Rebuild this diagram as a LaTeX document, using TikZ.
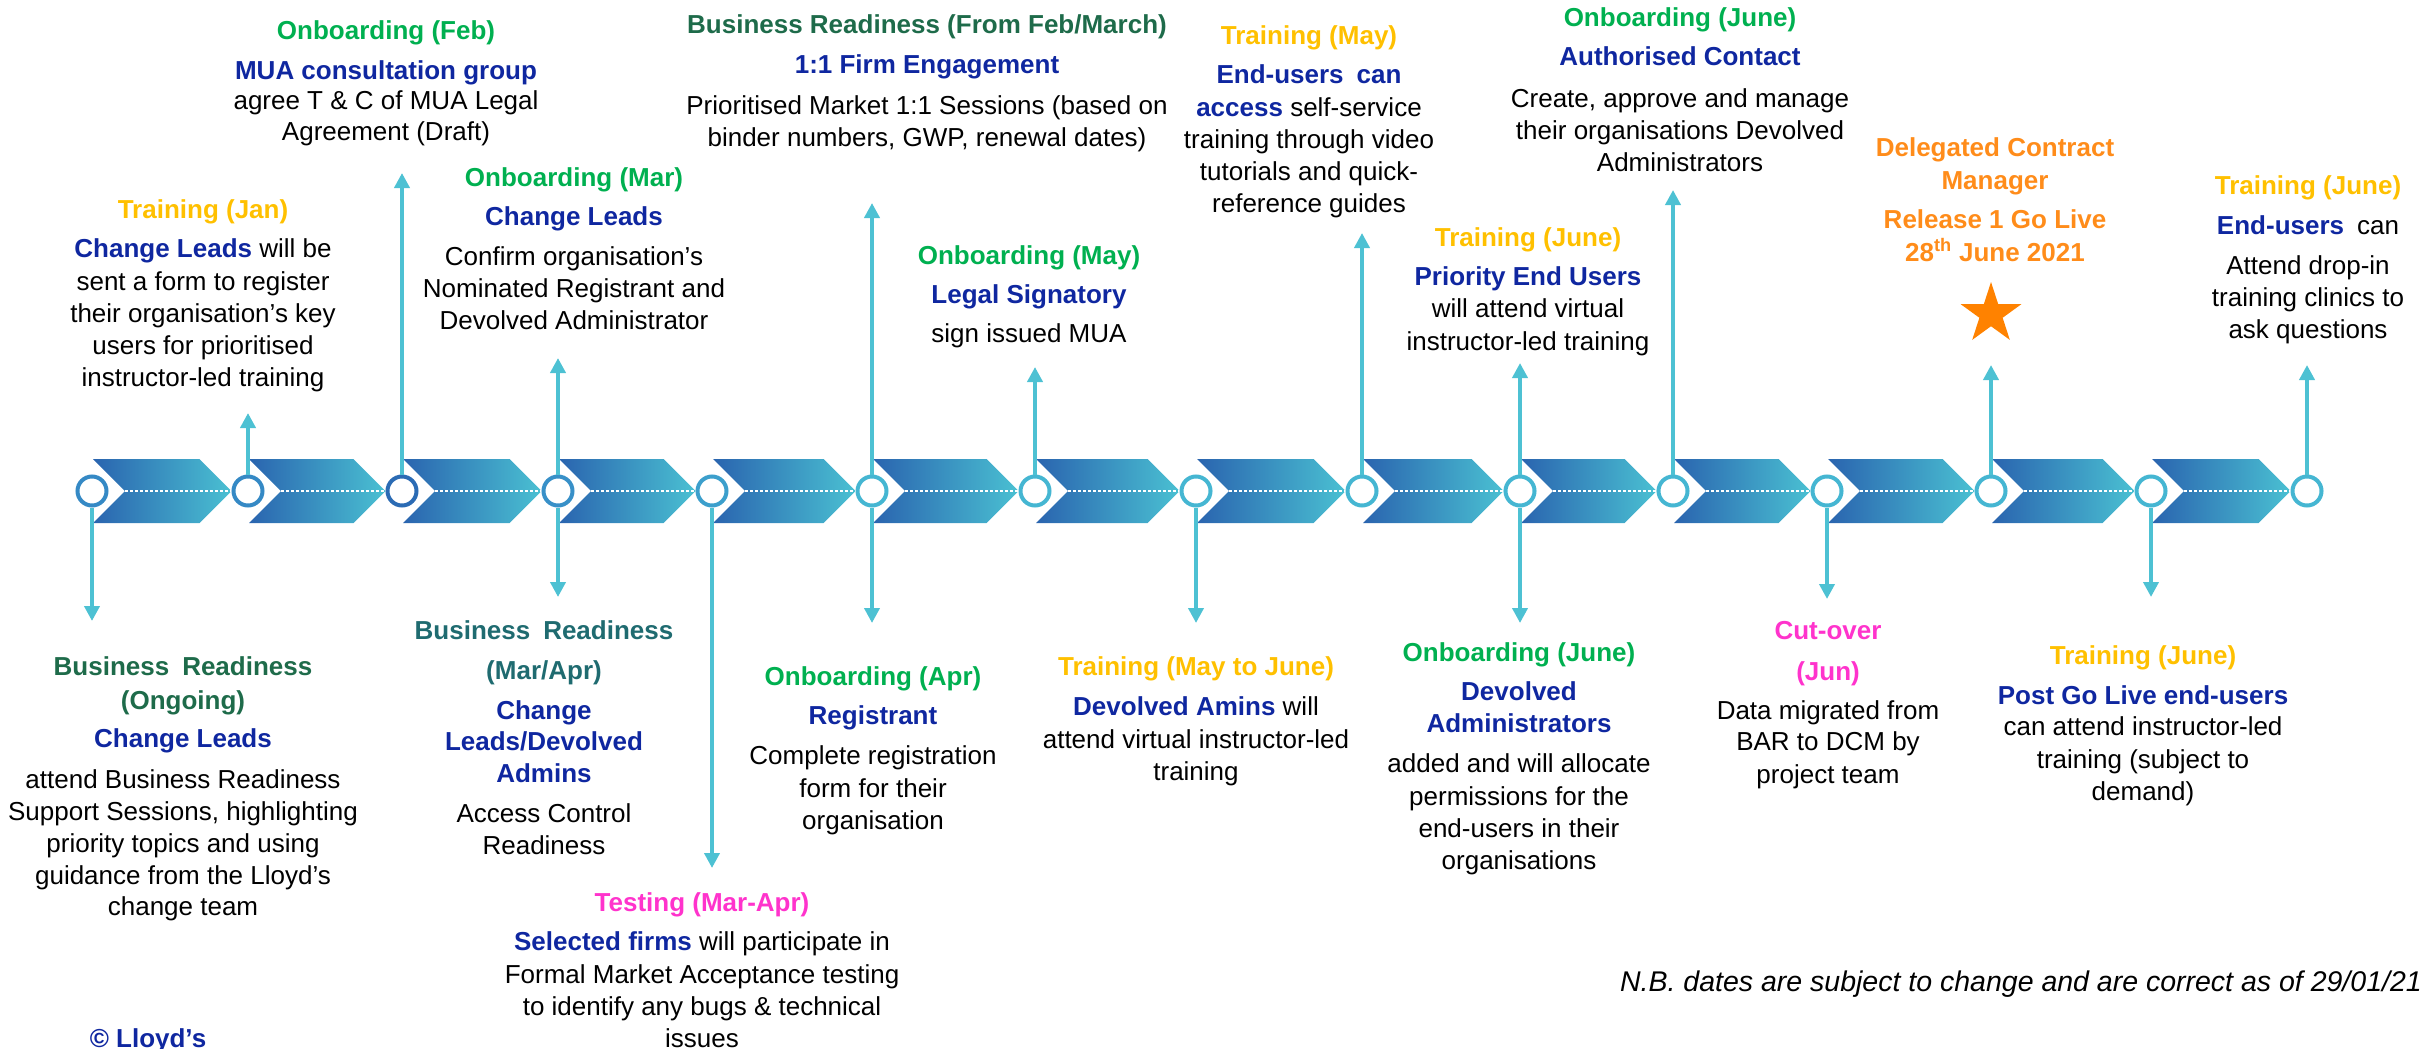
\documentclass[tikz,border=0pt]{standalone}
\usepackage{fontspec}
\setmainfont{Liberation Sans}
\usetikzlibrary{arrows.meta,shapes.geometric}
\definecolor{grn}{HTML}{00B050}
\definecolor{bgrn}{HTML}{1E6B4A}
\definecolor{btea}{HTML}{1F6B70}
\definecolor{amb}{HTML}{FFC000}
\definecolor{blu}{HTML}{0F27A0}
\definecolor{mag}{HTML}{FF33CC}
\definecolor{org}{HTML}{FF8C1A}
\definecolor{starc}{HTML}{FF8200}
\definecolor{conc}{HTML}{4DC1D3}
\definecolor{chL}{HTML}{2A64AF}
\definecolor{chR}{HTML}{4AC0D2}
\definecolor{rA}{HTML}{3589C5}
\definecolor{rB}{HTML}{2B6BB4}
\definecolor{rC}{HTML}{3890C8}
\definecolor{rD}{HTML}{3C9FCC}
\definecolor{rE}{HTML}{45B6D2}
\newcommand\bb[1]{\textbf{\color{blu}#1}}
\begin{document}
\begin{tikzpicture}[x=1pt,y=-1pt,
  ln/.style={anchor=base, inner sep=0pt, font=\fontsize{26}{32}\selectfont},
  hdr/.style={ln, font=\fontsize{26}{32}\selectfont\bfseries},
  onb/.style={hdr, text=grn},
  brg/.style={hdr, text=bgrn},
  brt/.style={hdr, text=btea},
  trn/.style={hdr, text=amb},
  tst/.style={hdr, text=mag},
  dcm/.style={hdr, text=org},
  sub/.style={hdr, text=blu},
  ring/.style={circle, fill=white, line width=4pt, minimum size=29pt, inner sep=0pt},
  conn/.style={draw=conc, line width=4pt, -{Triangle[width=15pt,length=15pt]}}]
\useasboundingbox (0,0) rectangle (2433,1049);
% chevrons
\foreach \a/\b in {92/248,248/402,402/558,558/712,712/872,872/1035,1035/1196,1196/1362,1362/1520,1520/1673,1673/1827,1827/1991,1991/2151,2151/2307}{
  \shade[left color=chL, right color=chR] (\a+1,459) -- (\b-48.5,459) -- (\b-16.5,491) -- (\b-48.5,523) -- (\a+1,523) -- (\a+33,491) -- cycle;
  \draw[white, line width=1.5pt, dash pattern=on 3pt off 2pt] (\a+33,491) -- (\b-16.5,491);
}
% circles
\node[ring, draw=rA] (c1) at (92,491) {};
\node[ring, draw=rA] (c2) at (248,491) {};
\node[ring, draw=rB] (c3) at (402,491) {};
\node[ring, draw=rC] (c4) at (558,491) {};
\node[ring, draw=rD] (c5) at (712,491) {};
\node[ring, draw=rE] (c6) at (872,491) {};
\node[ring, draw=rE] (c7) at (1035,491) {};
\node[ring, draw=rE] (c8) at (1196,491) {};
\node[ring, draw=rE] (c9) at (1362,491) {};
\node[ring, draw=rE] (c10) at (1520,491) {};
\node[ring, draw=rE] (c11) at (1673,491) {};
\node[ring, draw=rE] (c12) at (1827,491) {};
\node[ring, draw=rE] (c13) at (1991,491) {};
\node[ring, draw=rE] (c14) at (2151,491) {};
\node[ring, draw=rE] (c15) at (2307,491) {};
% connector ends
\coordinate (d1) at (92,621);
\coordinate (u2) at (248,413);
\coordinate (u3) at (402,173);
\coordinate (u4) at (558,358);
\coordinate (d4) at (558,597);
\coordinate (d5) at (712,868);
\coordinate (u6) at (872,203);
\coordinate (d6) at (872,623);
\coordinate (u7) at (1035,367);
\coordinate (d8) at (1196,623);
\coordinate (u9) at (1362,233);
\coordinate (u10) at (1520,363);
\coordinate (d10) at (1520,623);
\coordinate (u11) at (1673,190);
\coordinate (d12) at (1827,599);
\coordinate (u13) at (1991,365);
\coordinate (d14) at (2151,597);
\coordinate (u15) at (2307,365);
\draw[conn] (c1.south) -- (d1);
\draw[conn] (c2.north) -- (u2);
\draw[conn] (c3.north) -- (u3);
\draw[conn] (c4.north) -- (u4);
\draw[conn] (c4.south) -- (d4);
\draw[conn] (c5.south) -- (d5);
\draw[conn] (c6.north) -- (u6);
\draw[conn] (c6.south) -- (d6);
\draw[conn] (c7.north) -- (u7);
\draw[conn] (c8.south) -- (d8);
\draw[conn] (c9.north) -- (u9);
\draw[conn] (c10.north) -- (u10);
\draw[conn] (c10.south) -- (d10);
\draw[conn] (c11.north) -- (u11);
\draw[conn] (c12.south) -- (d12);
\draw[conn] (c13.north) -- (u13);
\draw[conn] (c14.south) -- (d14);
\draw[conn] (c15.north) -- (u15);
% Block A
\node[onb] (a1) at (386,40) {Onboarding (Feb)};
\node[sub] (a2) at (386,79) {MUA consultation group};
\node[ln] (a3) at (386,109) {agree T \& C of MUA Legal};
\node[ln] (a4) at (386,140) {Agreement (Draft)};
% Block B
\node[trn] (b1) at (203,218) {Training (Jan)};
\node[ln] (b2) at (203,257) {\bb{Change Leads} will be};
\node[ln] (b3) at (203,290) {sent a form to register};
\node[ln] (b4) at (203,322) {their organisation’s key};
\node[ln] (b5) at (203,354) {users for prioritised};
\node[ln] (b6) at (203,386) {instructor-led training};
% Block C
\node[onb] (cc1) at (574,186) {Onboarding (Mar)};
\node[sub] (cc2) at (574,225) {Change Leads};
\node[ln] (cc3) at (574,265) {Confirm organisation’s};
\node[ln] (cc4) at (574,297) {Nominated Registrant and};
\node[ln] (cc5) at (574,329) {Devolved Administrator};
% Block D
\node[brg] (dd1) at (927,34) {Business Readiness (From Feb/March)};
\node[sub] (dd2) at (927,74) {1:1 Firm Engagement};
\node[ln] (dd3) at (927,114) {Prioritised Market 1:1 Sessions (based on};
\node[ln] (dd4) at (927,146) {binder numbers, GWP, renewal dates)};
% Block E
\node[onb] (e1) at (1029,264) {Onboarding (May)};
\node[sub] (e2) at (1029,303) {Legal Signatory};
\node[ln] (e3) at (1029,342) {sign issued MUA};
% Block F
\node[trn] (f1) at (1309,45) {Training (May)};
\node[sub] (f2) at (1309,84) {End-users\enspace can};
\node[ln] (f3) at (1309,116) {\bb{access} self-service};
\node[ln] (f4) at (1309,148) {training through video};
\node[ln] (f5) at (1309,180) {tutorials and quick-};
\node[ln] (f6) at (1309,212) {reference guides};
% Block G
\node[onb] (g1) at (1680,27) {Onboarding (June)};
\node[sub] (g2) at (1680,66) {Authorised Contact};
\node[ln] (g3) at (1680,107) {Create, approve and manage};
\node[ln] (g4) at (1680,139) {their organisations Devolved};
\node[ln] (g5) at (1680,171) {Administrators};
% Block H
\node[trn] (h1) at (1528,246) {Training (June)};
\node[sub] (h2) at (1528,285) {Priority End Users};
\node[ln] (h3) at (1528,317) {will attend virtual};
\node[ln] (h4) at (1528,350) {instructor-led training};
% Block I
\node[dcm] (i1) at (1995,156) {Delegated Contract};
\node[dcm] (i2) at (1995,189) {Manager};
\node[dcm] (i3) at (1995,228) {Release 1 Go Live};
\node[dcm] (i4) at (1995,261) {28\textsuperscript{th} June 2021};
\node[star, star points=5, star point ratio=2.618, fill=starc, inner sep=0pt, minimum size=64pt] (star) at (1991,314) {};
% Block J
\node[trn] (j1) at (2308,194) {Training (June)};
\node[ln] (j2) at (2308,234) {\bb{End-users}\enspace can};
\node[ln] (j3) at (2308,274) {Attend drop-in};
\node[ln] (j4) at (2308,306) {training clinics to};
\node[ln] (j5) at (2308,338) {ask questions};
% Block K
\node[brg] (k1) at (183,675) {Business\enspace Readiness};
\node[brg] (k2) at (183,709) {(Ongoing)};
\node[sub] (k3) at (183,747) {Change Leads};
\node[ln] (k4) at (183,788) {attend Business Readiness};
\node[ln] (k5) at (183,820) {Support Sessions, highlighting};
\node[ln] (k6) at (183,852) {priority topics and using};
\node[ln] (k7) at (183,884) {guidance from the Lloyd’s};
\node[ln] (k8) at (183,915) {change team};
% Block L
\node[brt] (l1) at (544,639) {Business\enspace Readiness};
\node[brt] (l2) at (544,679) {(Mar/Apr)};
\node[sub] (l3) at (544,719) {Change};
\node[sub] (l4) at (544,750) {Leads/Devolved};
\node[sub] (l5) at (544,782) {Admins};
\node[ln] (l6) at (544,822) {Access Control};
\node[ln] (l7) at (544,854) {Readiness};
% Block M
\node[tst] (m1) at (702,911) {Testing (Mar-Apr)};
\node[ln] (m2) at (702,950) {\bb{Selected firms} will participate in};
\node[ln] (m3) at (702,983) {Formal Market Acceptance testing};
\node[ln] (m4) at (702,1015) {to identify any bugs \& technical};
\node[ln] (m5) at (702,1047) {issues};
% Block N
\node[onb] (n1) at (873,685) {Onboarding (Apr)};
\node[sub] (n2) at (873,724) {Registrant};
\node[ln] (n3) at (873,764) {Complete registration};
\node[ln] (n4) at (873,797) {form for their};
\node[ln] (n5) at (873,829) {organisation};
% Block O
\node[trn] (o1) at (1196,675) {Training (May to June)};
\node[ln] (o2) at (1196,715) {\bb{Devolved Amins} will};
\node[ln] (o3) at (1196,748) {attend virtual instructor-led};
\node[ln] (o4) at (1196,780) {training};
% Block P
\node[onb] (p1) at (1519,661) {Onboarding (June)};
\node[sub] (p2) at (1519,700) {Devolved};
\node[sub] (p3) at (1519,732) {Administrators};
\node[ln] (p4) at (1519,772) {added and will allocate};
\node[ln] (p5) at (1519,805) {permissions for the};
\node[ln] (p6) at (1519,837) {end-users in their};
\node[ln] (p7) at (1519,869) {organisations};
% Block Q
\node[tst] (q1) at (1828,639) {Cut-over};
\node[tst] (q2) at (1828,680) {(Jun)};
\node[ln] (q3) at (1828,719) {Data migrated from};
\node[ln] (q4) at (1828,750) {BAR to DCM by};
\node[ln] (q5) at (1828,783) {project team};
% Block R
\node[trn] (r1) at (2143,664) {Training (June)};
\node[sub] (r2) at (2143,704) {Post Go Live end-users};
\node[ln] (r3) at (2143,735) {can attend instructor-led};
\node[ln] (r4) at (2143,768) {training (subject to};
\node[ln] (r5) at (2143,800) {demand)};
% notes
\node[ln, anchor=base east, font=\fontsize{28.5}{34}\selectfont\itshape] (nb) at (2422,991) {N.B. dates are subject to change and are correct as of 29/01/21};
\node[sub] (copy) at (148,1047) {© Lloyd’s};
\end{tikzpicture}
\end{document}
